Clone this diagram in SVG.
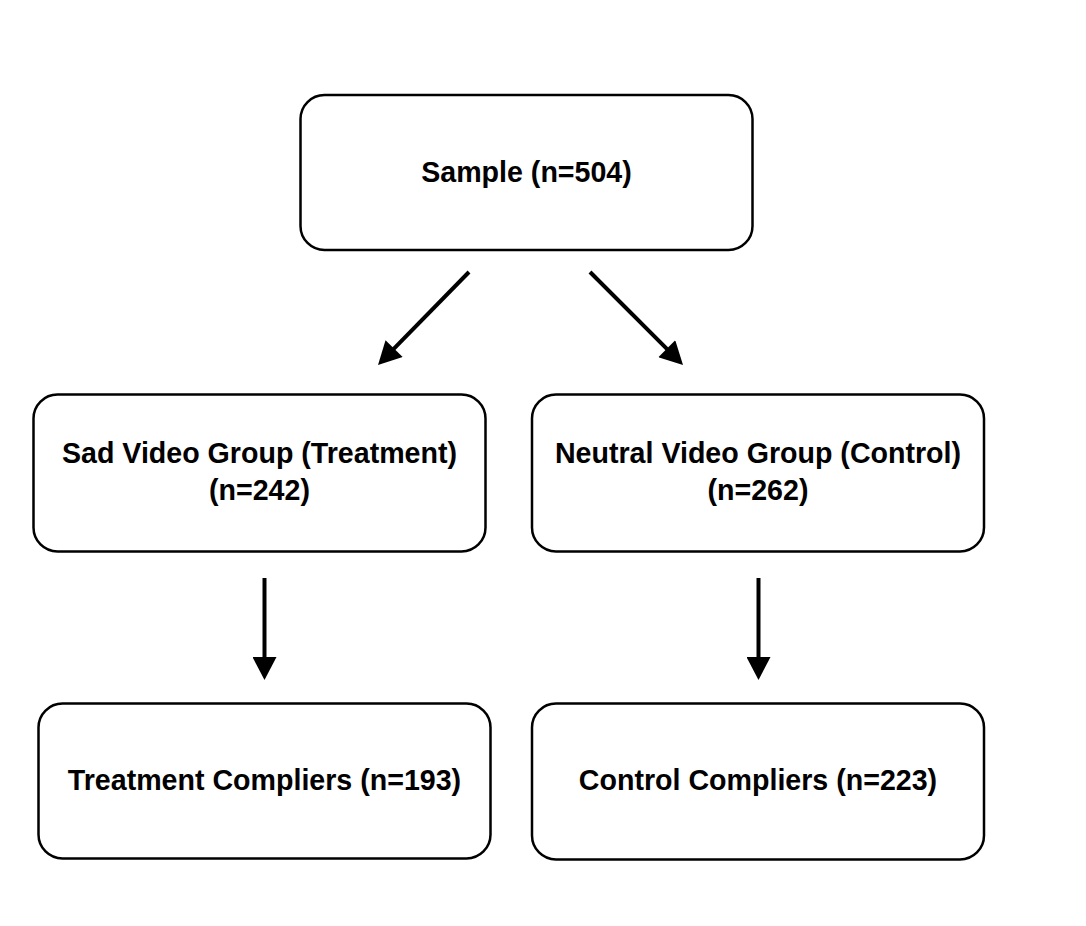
<svg xmlns="http://www.w3.org/2000/svg" width="1086" height="926" viewBox="0 0 1086 926">
<defs>
<style>
.box{fill:#fff;stroke:#000;stroke-width:2.5}
.lbl{font-family:"Liberation Sans",Arial,Helvetica,sans-serif;font-weight:bold;font-size:28.6px;fill:#000;text-anchor:middle}
.conn{stroke:#000;stroke-width:4;fill:none;marker-end:url(#ah)}
</style>
<marker id="ah" markerUnits="userSpaceOnUse" markerWidth="24" markerHeight="24" viewBox="0 0 23 24" refX="3" refY="12" orient="auto">
<path d="M0,0 L23,12 L0,24 z" fill="#000"/>
</marker>
</defs>
<rect width="1086" height="926" fill="#fff"/>
<g id="connectors">
<line class="conn" x1="469" y1="272" x2="392" y2="350.7"/>
<line class="conn" x1="590" y1="272" x2="668.9" y2="350.9"/>
<line class="conn" x1="264.5" y1="578" x2="264.5" y2="660"/>
<line class="conn" x1="758.5" y1="578" x2="758.5" y2="660"/>
</g>
<g id="sample">
<rect class="box" x="300.5" y="95" width="452" height="155" rx="24"/>
<text class="lbl" x="526.5" y="182">Sample (n=504)</text>
</g>
<g id="sad">
<rect class="box" x="33.5" y="394.5" width="452" height="157" rx="24"/>
<text class="lbl" x="259.5" y="463">Sad Video Group (Treatment)</text>
<text class="lbl" x="259.5" y="500">(n=242)</text>
</g>
<g id="neutral">
<rect class="box" x="532" y="394.5" width="452" height="157" rx="24"/>
<text class="lbl" x="758" y="463">Neutral Video Group (Control)</text>
<text class="lbl" x="758" y="500">(n=262)</text>
</g>
<g id="treatmentCompliers">
<rect class="box" x="38.5" y="703.5" width="452" height="155" rx="24"/>
<text class="lbl" x="264.5" y="790">Treatment Compliers (n=193)</text>
</g>
<g id="controlCompliers">
<rect class="box" x="532" y="703.5" width="452" height="156" rx="24"/>
<text class="lbl" x="758" y="790">Control Compliers (n=223)</text>
</g>
</svg>
